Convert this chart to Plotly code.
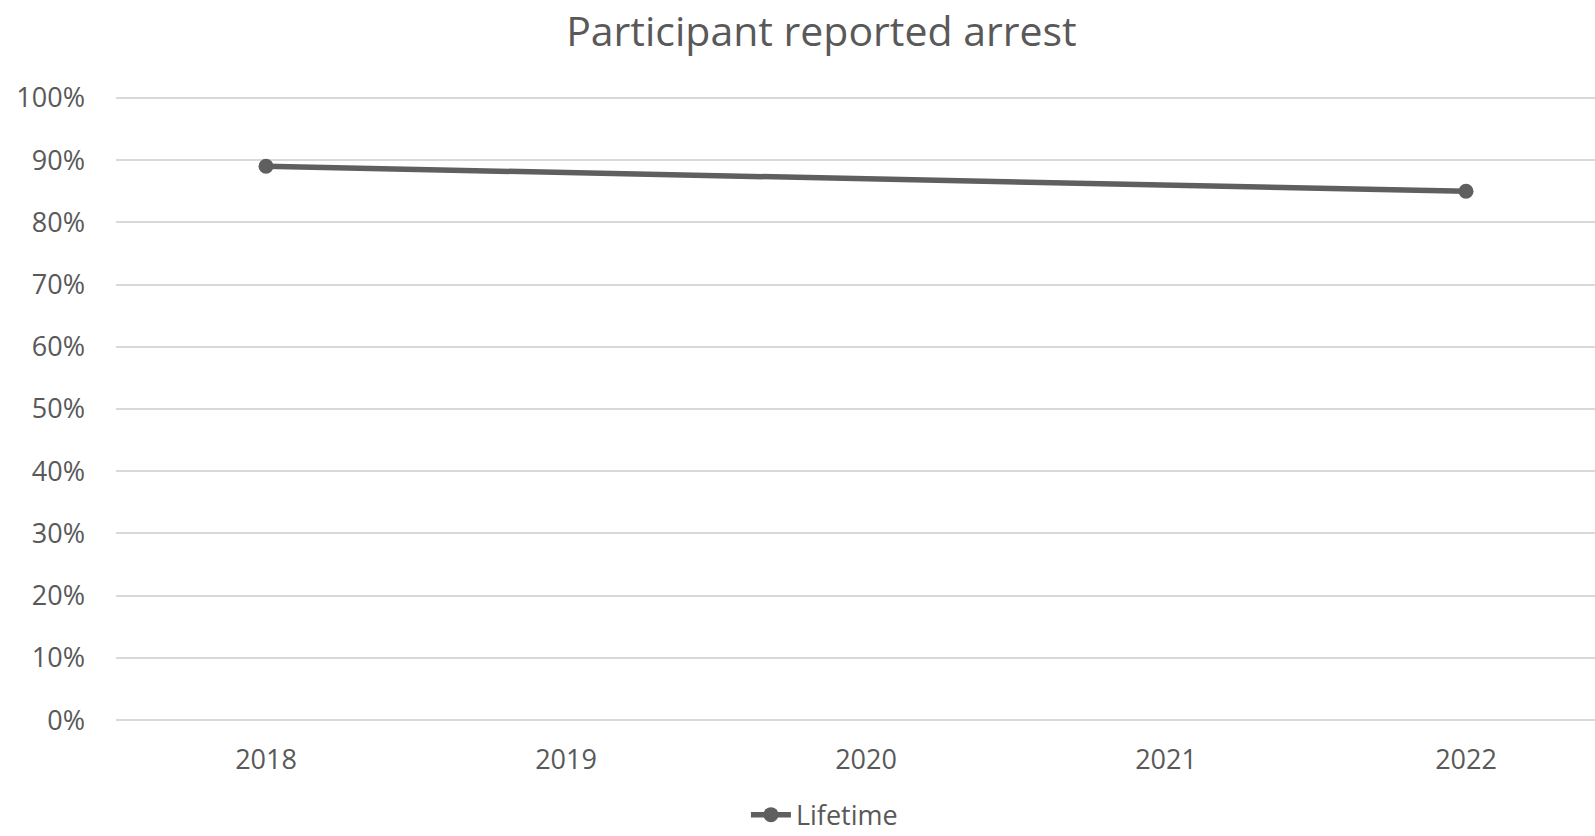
import plotly.graph_objects as go

# Category axis years, and the survey years that have a lifetime-arrest value
axis_years = ["2018", "2019", "2020", "2021", "2022"]
survey_years = ["2018", "2022"]
lifetime = [0.89, 0.85]
y_ticks = [0, 0.1, 0.2, 0.3, 0.4, 0.5, 0.6, 0.7, 0.8, 0.9, 1.0]

text_color = "#595959"
font_family = "Open Sans, Liberation Sans, sans-serif"

fig = go.Figure()
fig.add_trace(go.Scatter(
    x=survey_years,
    y=lifetime,
    name="Lifetime",
    mode="lines+markers",
    line=dict(color="#5f5f5f", width=5.5),
    marker=dict(color="#5f5f5f", size=15),
))

fig.update_layout(
    width=1595,
    height=836,
    paper_bgcolor="white",
    plot_bgcolor="white",
    margin=dict(l=116, r=0, t=96, b=114, autoexpand=False),
    font=dict(family=font_family, color=text_color, size=27),
    title=dict(
        text="Participant reported arrest",
        x=0.515,
        xanchor="center",
        y=0.962,
        yanchor="middle",
        font=dict(size=41, color=text_color, family=font_family),
    ),
    showlegend=True,
    legend=dict(
        orientation="h",
        x=0.479,
        xanchor="center",
        yref="container",
        y=0.025,
        yanchor="middle",
        font=dict(size=27, color=text_color),
        itemwidth=40,
        borderwidth=0,
    ),
    xaxis=dict(
        type="category",
        categoryorder="array",
        categoryarray=axis_years,
        tickvals=axis_years,
        range=[-0.5, 4.43],
        automargin=False,
        showgrid=False,
        showline=False,
        zeroline=False,
        ticks="",
        ticklabelstandoff=19,
        tickfont=dict(size=27, color=text_color),
    ),
    yaxis=dict(
        range=[-0.003, 1.003],
        tickvals=y_ticks,
        tickformat=".0%",
        automargin=False,
        showgrid=True,
        gridcolor="#d9d9d9",
        gridwidth=1.5,
        zeroline=False,
        showline=False,
        ticks="",
        ticklabelstandoff=30,
        tickfont=dict(size=27, color=text_color),
    ),
)

fig.write_html("out.html")
